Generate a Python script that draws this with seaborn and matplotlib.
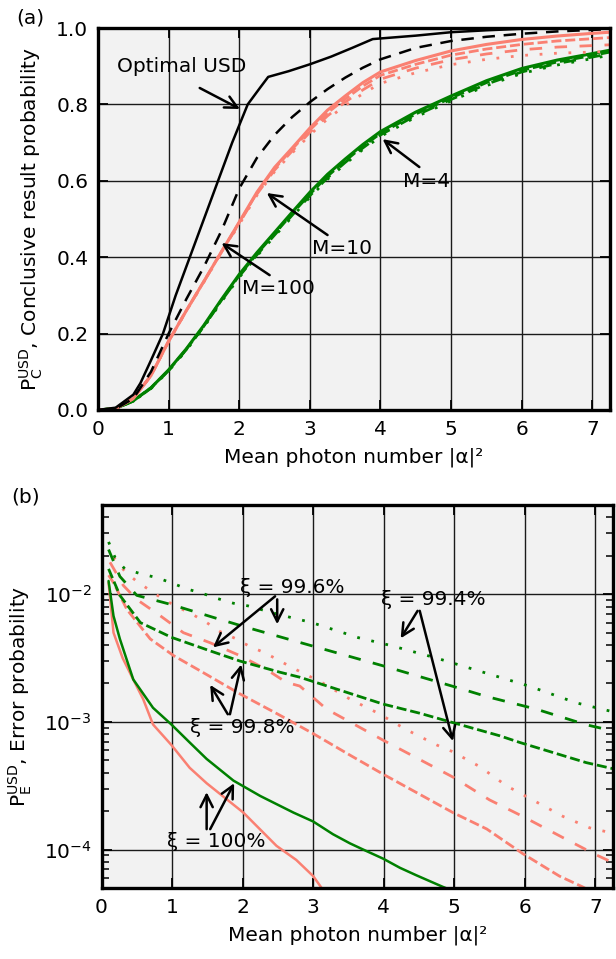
import numpy as np
import pandas as pd
import matplotlib
matplotlib.use("Agg")
import matplotlib.pyplot as plt
import seaborn as sns

# ---------------- data: panel (a) ----------------
x_black = [0, 0.25, 0.5, 0.6, 0.75, 0.92, 1.1, 1.3, 1.5, 1.7, 1.9, 2.12, 2.3, 2.41, 2.7, 3.0, 3.3, 3.6, 3.89, 4.5, 5.0, 5.5, 6.0, 7.25]
opt_usd = [0, 0.006, 0.04, 0.07, 0.13, 0.20, 0.30, 0.40, 0.50, 0.60, 0.70, 0.80, 0.845, 0.872, 0.887, 0.905, 0.925, 0.948, 0.971, 0.98, 0.989, 0.994, 0.998, 1.0]

x_a = [0, 0.25, 0.5, 0.75, 1.0, 1.25, 1.5, 1.75, 2.0, 2.25, 2.5, 2.75, 3.0, 3.25, 3.5, 3.75, 4.0, 4.5, 5.0, 5.5, 6.0, 6.5, 7.0, 7.25]
m100 = [0, 0.003, 0.03, 0.10, 0.20, 0.29, 0.375, 0.47, 0.58, 0.66, 0.72, 0.767, 0.806, 0.84, 0.87, 0.896, 0.918, 0.948, 0.966, 0.977, 0.985, 0.991, 0.995, 0.997]
m10_100 = [0, 0.003, 0.03, 0.09, 0.18, 0.26, 0.337, 0.415, 0.492, 0.57, 0.635, 0.686, 0.738, 0.785, 0.822, 0.857, 0.885, 0.915, 0.94, 0.957, 0.97, 0.979, 0.986, 0.989]
m10_998 = [0, 0.003, 0.03, 0.09, 0.18, 0.26, 0.337, 0.415, 0.491, 0.568, 0.632, 0.683, 0.733, 0.778, 0.814, 0.848, 0.876, 0.905, 0.929, 0.945, 0.957, 0.966, 0.972, 0.975]
m10_996 = [0, 0.003, 0.03, 0.09, 0.18, 0.26, 0.336, 0.414, 0.489, 0.565, 0.628, 0.678, 0.727, 0.77, 0.806, 0.838, 0.866, 0.895, 0.917, 0.932, 0.943, 0.95, 0.954, 0.956]
m10_994 = [0, 0.003, 0.03, 0.09, 0.179, 0.259, 0.335, 0.412, 0.486, 0.562, 0.624, 0.673, 0.72, 0.762, 0.797, 0.828, 0.855, 0.883, 0.904, 0.918, 0.928, 0.934, 0.937, 0.939]
m4_100 = [0, 0.004, 0.024, 0.058, 0.105, 0.16, 0.222, 0.29, 0.355, 0.412, 0.465, 0.518, 0.57, 0.617, 0.657, 0.695, 0.729, 0.78, 0.822, 0.862, 0.894, 0.916, 0.933, 0.942]
m4_998 = [0, 0.004, 0.024, 0.058, 0.104, 0.159, 0.220, 0.288, 0.352, 0.409, 0.461, 0.514, 0.565, 0.612, 0.652, 0.69, 0.724, 0.775, 0.817, 0.857, 0.889, 0.911, 0.928, 0.937]
m4_996 = [0, 0.004, 0.023, 0.057, 0.103, 0.158, 0.219, 0.286, 0.350, 0.406, 0.458, 0.510, 0.561, 0.608, 0.648, 0.686, 0.72, 0.771, 0.813, 0.853, 0.885, 0.907, 0.924, 0.933]
m4_994 = [0, 0.004, 0.023, 0.056, 0.102, 0.156, 0.217, 0.284, 0.347, 0.403, 0.455, 0.506, 0.557, 0.604, 0.644, 0.682, 0.716, 0.767, 0.809, 0.849, 0.881, 0.903, 0.92, 0.929]

# ---------------- data: panel (b) ----------------
xg100 = [0.10, 0.17, 0.26, 0.45, 0.73, 0.99, 1.25, 1.49, 1.87, 2.25, 2.72, 3.0, 3.28, 3.52, 3.71, 3.99, 4.23, 4.46, 4.84, 5.0]
g100 = [1.27e-2, 6.76e-3, 4.47e-3, 2.15e-3, 1.29e-3, 9.55e-4, 6.9e-4, 5.13e-4, 3.47e-4, 2.63e-4, 1.95e-4, 1.66e-4, 1.32e-4, 1.12e-4, 1.0e-4, 8.5e-5, 7.2e-5, 6.3e-5, 5.1e-5, 4.7e-5]
xg998 = [0.10, 0.26, 0.55, 0.99, 1.54, 1.96, 2.53, 2.81, 3.99, 4.51, 4.89, 5.64, 5.93, 6.87, 7.25]
g998 = [1.58e-2, 9.8e-3, 6.0e-3, 4.6e-3, 3.6e-3, 3.0e-3, 2.45e-3, 2.24e-3, 1.38e-3, 1.17e-3, 1.02e-3, 7.8e-4, 6.9e-4, 4.8e-4, 4.3e-4]
xg996 = [0.10, 0.26, 0.50, 0.99, 1.58, 2.01, 2.76, 3.99, 4.98, 5.46, 6.16, 6.87, 7.25]
g996 = [2.24e-2, 1.38e-2, 9.8e-3, 8.3e-3, 6.6e-3, 5.6e-3, 4.27e-3, 2.75e-3, 1.9e-3, 1.58e-3, 1.26e-3, 9.5e-4, 8.5e-4]
xg994 = [0.10, 0.19, 0.33, 0.55, 0.78, 0.99, 1.21, 1.42, 1.63, 1.87, 2.08, 2.53, 2.98, 3.64, 4.09, 4.75, 5.41, 6.07, 6.73, 7.25]
g994 = [2.57e-2, 1.95e-2, 1.58e-2, 1.45e-2, 1.35e-2, 1.23e-2, 1.10e-2, 1.02e-2, 9.3e-3, 8.5e-3, 8.1e-3, 6.9e-3, 6.0e-3, 4.57e-3, 3.98e-3, 3.16e-3, 2.45e-3, 1.9e-3, 1.41e-3, 1.2e-3]

xs100 = [0.10, 0.17, 0.30, 0.45, 0.59, 0.73, 0.99, 1.25, 1.49, 2.01, 2.48, 2.76, 3.0, 3.12]
s100 = [1.23e-2, 5.0e-3, 3.16e-3, 2.15e-3, 1.51e-3, 9.55e-4, 6.6e-4, 4.37e-4, 3.31e-4, 1.95e-4, 1.07e-4, 8.3e-5, 6.2e-5, 5.0e-5]
xs998 = [0.10, 0.17, 0.36, 0.69, 1.02, 1.40, 1.96, 2.50, 3.0, 3.52, 3.99, 4.98, 5.46, 5.97, 6.49, 6.82, 7.25]
s998 = [1.41e-2, 1.23e-2, 7.6e-3, 4.47e-3, 3.31e-3, 2.51e-3, 1.66e-3, 1.15e-3, 8.1e-4, 5.5e-4, 3.9e-4, 1.95e-4, 1.45e-4, 9.3e-5, 6.2e-5, 5.1e-5, 3.8e-5]
xs996 = [0.12, 0.31, 0.50, 0.83, 1.16, 1.54, 1.96, 2.34, 2.62, 2.81, 3.19, 3.99, 4.98, 5.50, 5.97, 6.59, 7.01, 7.25]
s996 = [1.78e-2, 1.17e-2, 9.1e-3, 6.8e-3, 5.0e-3, 4.17e-3, 3.31e-3, 2.57e-3, 2.04e-3, 1.91e-3, 1.26e-3, 7.2e-4, 3.7e-4, 2.45e-4, 1.82e-4, 1.2e-4, 9.1e-5, 7.9e-5]
xs994 = [0.17, 0.33, 0.50, 0.69, 0.88, 1.09, 1.30, 1.49, 1.68, 1.91, 2.10, 2.32, 2.53, 2.72, 3.12, 3.52, 3.92, 4.32, 4.75, 4.96, 5.36, 5.74, 6.14, 6.54, 6.92, 7.23]
s994 = [1.95e-2, 1.51e-2, 1.26e-2, 1.07e-2, 9.1e-3, 7.9e-3, 6.9e-3, 6.0e-3, 5.1e-3, 4.47e-3, 3.9e-3, 3.47e-3, 3.0e-3, 2.63e-3, 2.04e-3, 1.51e-3, 1.17e-3, 8.7e-4, 6.6e-4, 5.9e-4, 4.47e-4, 3.16e-4, 2.4e-4, 1.82e-4, 1.48e-4, 1.35e-4]

x_ticks = [0, 1, 2, 3, 4, 5, 6, 7]
y_ticks_a = [0.0, 0.2, 0.4, 0.6, 0.8, 1.0]

# ---------------- style ----------------
sns.set_style("ticks")
plt.rcParams["font.family"] = ["DejaVu Sans"]
plt.rcParams["mathtext.fontset"] = "dejavusans"
for k in ["text.color", "axes.labelcolor", "xtick.color", "ytick.color", "axes.edgecolor"]:
    plt.rcParams[k] = "black"
FS = 14.5

SALMON = "#fa8072"
GREEN = "#008000"
LS_998 = (0, (3.6, 1.4))
LS_996 = (0, (4.5, 4.5))
LS_994 = (0, (1, 4.2))
LW = 2.0

fig = plt.figure(figsize=(6.16, 9.59), dpi=100)
ax1 = fig.add_axes([0.1591, 0.5725, 0.8312, 0.3983])
ax2 = fig.add_axes([0.1648, 0.0740, 0.8304, 0.3994])


def style_axes(ax):
    ax.set_facecolor("#f2f2f2")
    for s in ax.spines.values():
        s.set_linewidth(2.4)
        s.set_color("black")
    ax.grid(True, which="major", color="#1a1a1a", lw=1.0)
    ax.set_axisbelow(True)
    ax.tick_params(which="both", direction="in", left=True, right=True, top=True, bottom=True,
                   labelsize=FS, color="black", labelcolor="black")
    ax.tick_params(which="major", length=7, width=1.3, pad=7)
    ax.tick_params(which="minor", length=5, width=1.1)


def line(ax, x, y, color, ls="-", lw=LW):
    sns.lineplot(x=x, y=y, ax=ax, color=color, linestyle=ls, lw=lw, sort=False, estimator=None)


# ---- panel (a) ----
style_axes(ax1)
line(ax1, x_a, m4_994, GREEN, LS_994)
line(ax1, x_a, m4_996, GREEN, LS_996)
line(ax1, x_a, m4_998, GREEN, LS_998)
line(ax1, x_a, m4_100, GREEN, "-", 2.2)
line(ax1, x_a, m10_994, SALMON, LS_994)
line(ax1, x_a, m10_996, SALMON, LS_996)
line(ax1, x_a, m10_998, SALMON, LS_998)
line(ax1, x_a, m10_100, SALMON, "-", 2.2)
line(ax1, x_a, m100, "black", (0, (5, 3.5)), 1.8)
line(ax1, x_black, opt_usd, "black", "-", 1.8)

ax1.set_xlim(0, 7.25)
ax1.set_ylim(0, 1.0)
ax1.set_xticks(x_ticks)
ax1.set_yticks(y_ticks_a)
ax1.set_yticklabels([f"{v:.1f}" for v in y_ticks_a])
ax1.set_xlabel("Mean photon number |α|²", fontsize=FS, labelpad=6)
ax1.set_ylabel(r"$\mathrm{P}_\mathrm{C}^\mathrm{USD}$, Conclusive result probability", fontsize=FS)
ax1.yaxis.set_label_coords(-0.103, 0.5)

arrow = dict(arrowstyle="->", lw=1.8, color="black", mutation_scale=22, shrinkA=0, shrinkB=0)
ann_a = [
    ("Optimal USD", (1.19, 0.898), (1.44, 0.843), (2.01, 0.788)),
    ("M=100", (2.55, 0.319), (2.43, 0.353), (1.75, 0.437)),
    ("M=10", (3.45, 0.424), (3.25, 0.458), (2.39, 0.568)),
    ("M=4", (4.65, 0.597), (4.55, 0.636), (4.03, 0.709)),
]
for txt, tpos, tail, head in ann_a:
    ax1.text(tpos[0], tpos[1], txt, fontsize=FS, ha="center", va="center")
    ax1.annotate("", xy=head, xytext=tail, arrowprops=arrow)

# ---- panel (b) ----
ax2.set_yscale("log")
style_axes(ax2)
line(ax2, xs994, s994, SALMON, LS_994)
line(ax2, xs996, s996, SALMON, LS_996)
line(ax2, xs998, s998, SALMON, LS_998)
line(ax2, xs100, s100, SALMON, "-", 1.8)
line(ax2, xg994, g994, GREEN, LS_994)
line(ax2, xg996, g996, GREEN, LS_996)
line(ax2, xg998, g998, GREEN, LS_998)
line(ax2, xg100, g100, GREEN, "-", 1.8)

ax2.set_xlim(0, 7.25)
ax2.set_ylim(5e-5, 5e-2)
ax2.set_xticks(x_ticks)
ax2.yaxis.set_major_locator(matplotlib.ticker.LogLocator(base=10, numticks=10))
ax2.yaxis.set_minor_locator(matplotlib.ticker.LogLocator(base=10, subs=np.arange(2, 10), numticks=20))
ax2.yaxis.set_minor_formatter(matplotlib.ticker.NullFormatter())
ax2.set_xlabel("Mean photon number |α|²", fontsize=FS, labelpad=6)
ax2.set_ylabel(r"$\mathrm{P}_\mathrm{E}^\mathrm{USD}$, Error probability", fontsize=FS)
ax2.yaxis.set_label_coords(-0.132, 0.5)

ann_b = [
    ("ξ = 99.6%", (2.70, -1.945), [((2.46, -2.016), (1.58, -2.416)), ((2.49, -2.04), (2.49, -2.235))]),
    ("ξ = 99.4%", (4.70, -2.04), [((4.48, -2.13), (4.24, -2.345)), ((4.51, -2.13), (4.98, -3.15))]),
    ("ξ = 99.8%", (2.00, -3.04), [((1.79, -2.94), (1.54, -2.71)), ((1.82, -2.94), (1.98, -2.55))]),
    ("ξ = 100%", (1.63, -3.94), [((1.49, -3.84), (1.49, -3.55)), ((1.54, -3.84), (1.88, -3.48))]),
]
for txt, tpos, arrs in ann_b:
    ax2.text(tpos[0], 10 ** tpos[1], txt, fontsize=FS, ha="center", va="center")
    for tail, head in arrs:
        ax2.annotate("", xy=(head[0], 10 ** head[1]), xytext=(tail[0], 10 ** tail[1]), arrowprops=arrow)

fig.text(0.049, 0.981, "(a)", fontsize=FS, ha="center", va="center")
fig.text(0.041, 0.482, "(b)", fontsize=FS, ha="center", va="center")

fig.savefig("out.png", dpi=100)
